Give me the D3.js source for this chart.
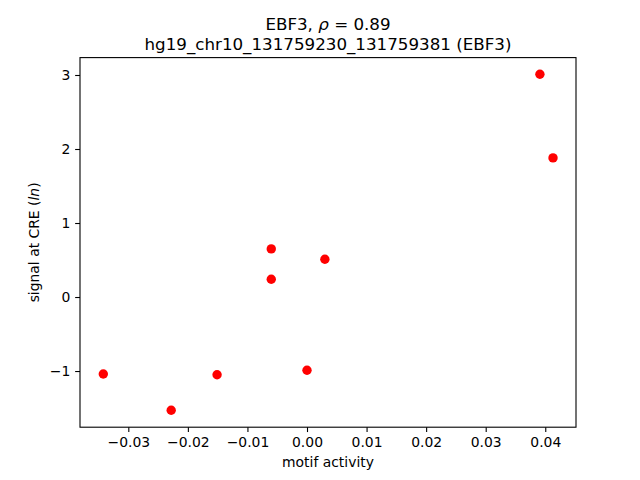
<!DOCTYPE html>
<html><head><meta charset="utf-8">
<script src="https://cdn.jsdelivr.net/npm/d3@7"></script>
<style>body{margin:0;background:#fff;} text{font-family:"DejaVu Sans",sans-serif;}</style>
</head><body>
<svg id="c" width="640" height="480"></svg>
<script>
const motifActivity = [0.0391, 0.0413, -0.0060, 0.0030, -0.0060, -0.0342, -0.0151, 0.0000, -0.0228];
const signalCRE     = [3.01, 1.88, 0.65, 0.51, 0.24, -1.04, -1.05, -0.99, -1.53];
const xTicks = [-0.03, -0.02, -0.01, 0.00, 0.01, 0.02, 0.03, 0.04];
const yTicks = [-1, 0, 1, 2, 3];
const titleLine2 = "hg19_chr10_131759230_131759381 (EBF3)";

const svg = d3.select("#c");
const L = 80, R = 576, T = 57.6, B = 427.2;
const x = d3.scaleLinear().domain([-0.03811, 0.04516]).range([L, R]);
const y = d3.scaleLinear().domain([-1.759, 3.235]).range([B, T]);

const fmtX = d => d3.format(".2f")(d).replace("-", "\u2212");
const fmtY = d => String(d).replace("-", "\u2212");

const xa = svg.append("g").attr("transform", `translate(0,${B})`)
  .call(d3.axisBottom(x).tickValues(xTicks).tickFormat(fmtX).tickSizeOuter(0).tickSize(4.86).tickPadding(4.9));
const ya = svg.append("g").attr("transform", `translate(${L},0)`)
  .call(d3.axisLeft(y).tickValues(yTicks).tickFormat(fmtY).tickSizeOuter(0).tickSize(4.86).tickPadding(4.9));
[xa, ya].forEach(a => {
  a.select(".domain").remove();
  a.selectAll("line").attr("stroke", "#000").attr("stroke-width", 1.1);
  a.selectAll("text").attr("font-size", "13.9px").attr("fill", "#000").attr("font-family", "DejaVu Sans");
});

svg.append("rect").attr("x", L).attr("y", T).attr("width", R - L).attr("height", B - T)
  .attr("fill", "none").attr("stroke", "#000").attr("stroke-width", 1.1);

svg.append("g").selectAll("circle").data(motifActivity).join("circle")
  .attr("cx", d => x(d)).attr("cy", (d, i) => y(signalCRE[i])).attr("r", 4.7).attr("fill", "#ff0000");

// title
const t1 = svg.append("text").attr("x", (L + R) / 2).attr("y", 30).attr("text-anchor", "middle").attr("font-size", "16.7px");
t1.append("tspan").text("EBF3, ");
t1.append("tspan").attr("font-style", "italic").text("\u03c1");
t1.append("tspan").text(" = 0.89");
svg.append("text").attr("x", (L + R) / 2).attr("y", 49.5).attr("text-anchor", "middle").attr("font-size", "16.7px").text(titleLine2);

svg.append("text").attr("x", (L + R) / 2).attr("y", 467).attr("text-anchor", "middle").attr("font-size", "13.9px").text("motif activity");

const yl = svg.append("text").attr("transform", `translate(39,${(T + B) / 2}) rotate(-90)`).attr("text-anchor", "middle").attr("font-size", "13.9px");
yl.append("tspan").text("signal at CRE (");
yl.append("tspan").attr("font-style", "italic").text("ln");
yl.append("tspan").text(")");
</script>
</body></html>
